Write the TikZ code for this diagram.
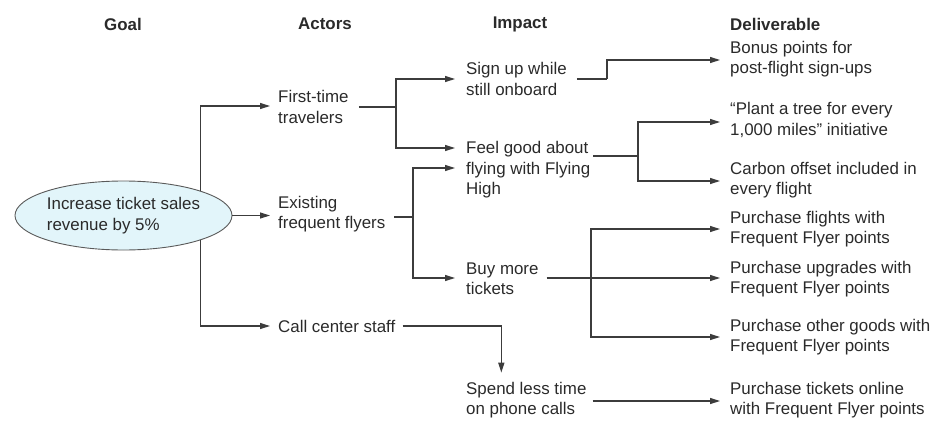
\documentclass[tikz,border=0pt]{standalone}
\usepackage{fontspec}
\setmainfont{Liberation Sans}
\usetikzlibrary{arrows.meta,shapes.geometric,calc}
\definecolor{txt}{HTML}{2A2A2A}
\definecolor{ln}{HTML}{3C3C3C}
\definecolor{goalfill}{HTML}{E2F5FA}
\definecolor{goaldraw}{HTML}{5A5A5A}
\begin{document}
\begin{tikzpicture}[x=1pt,y=-1pt,
  every node/.style={font=\fontsize{16.9}{20.5}\selectfont, text=txt},
  hdr/.style={font=\fontsize{16.9}{20.5}\selectfont\bfseries, inner sep=0},
  lbl/.style={anchor=west, align=left, inner sep=0},
  goalbox/.style={ellipse, draw=goaldraw, fill=goalfill, line width=0.9pt,
    minimum width=217pt, minimum height=69pt, inner sep=0, align=left},
  conn/.style={draw=ln, line width=1.3pt},
  arr/.style={conn, -{Triangle[length=10pt,width=6pt]}},
  arrA/.style={arr, shorten >=8pt},
  arrI/.style={arr, shorten >=11pt},
  arrD/.style={arr, shorten >=10pt}]
\useasboundingbox (0,0) rectangle (941,431);

% headers
\node[hdr] (hg) at (123,24) {Goal};
\node[hdr] (ha) at (325,24) {Actors};
\node[hdr] (hi) at (520,24) {Impact};
\node[hdr, anchor=west] (hd) at (730,24) {Deliverable};

% goal
\node[goalbox] (g) at (123.5,215.5) {Increase ticket sales\\revenue by 5\%};

% actors
\node[lbl] (a1) at (278,107) {First-time\\travelers};
\node[lbl] (a2) at (278,214) {Existing\\frequent flyers};
\node[lbl] (a3) at (278,326) {Call center staff};

% impacts
\node[lbl] (i1) at (466,79) {Sign up while\\still onboard};
\node[lbl] (i2) at (466,170) {Feel good about\\flying with Flying\\High};
\node[lbl] (i3) at (466,279) {Buy more\\tickets};
\node[lbl] (i4) at (466,400) {Spend less time\\on phone calls};

% deliverables
\node[lbl] (d1) at (730,59) {Bonus points for\\post-flight sign-ups};
\node[lbl] (d2) at (730,120) {“Plant a tree for every\\1,000 miles” initiative};
\node[lbl] (d3) at (730,180) {Carbon offset included in\\every flight};
\node[lbl] (d4) at (730,229) {Purchase flights with\\Frequent Flyer points};
\node[lbl] (d5) at (730,279) {Purchase upgrades with\\Frequent Flyer points};
\node[lbl] (d6) at (730,337) {Purchase other goods with\\Frequent Flyer points};
\node[lbl] (d7) at (730,400) {Purchase tickets online\\with Frequent Flyer points};

% goal -> actors
\draw[arrA] (g.north east) |- ([yshift=1pt]a1.west);
\draw[arrA] (g.east) -- (g.east -| a2.west);
\draw[arrA] (g.south east) |- (a3.west);

% actors -> impacts
\draw[conn] ([xshift=10pt]a1.east) -- (396,107) coordinate (b1);
\draw[arrI] (b1) |- (i1.west);
\draw[arrI] (b1) |- ([yshift=22pt]i2.west);

\draw[conn] ($(a2.east)+(9,3)$) -- (413,217) coordinate (b2);
\draw[arrI] (b2) |- ([yshift=2pt]i2.west);
\draw[arrI] (b2) |- ([yshift=1pt]i3.west);

\draw[arrA] ([xshift=7pt]a3.east) -| ($(i4.north)+(-25,-1)$);

% impacts -> deliverables
\draw[conn] ([xshift=10pt]i1.east) -- (607,79) coordinate (c1);
\draw[arrD] (c1) |- ([yshift=-1pt]d1.west);

\draw[conn] ($(i2.east)+(3,-14)$) -- (638,156) coordinate (c2);
\draw[arrD] (c2) |- ([yshift=-2pt]d2.west);
\draw[arrD] (c2) |- ([yshift=-1pt]d3.west);

\draw[arrD] ($(i3.east)+(8,-1)$) -- ($(d5.west)+(0,-1)$);
\coordinate (c3) at (591,278);
\draw[arrD] (c3) |- (d4.west);
\draw[arrD] (c3) |- (d6.west);

\draw[arrD] ($(i4.east)+(6,1)$) -- ($(d7.west)+(0,1)$);
\end{tikzpicture}
\end{document}
